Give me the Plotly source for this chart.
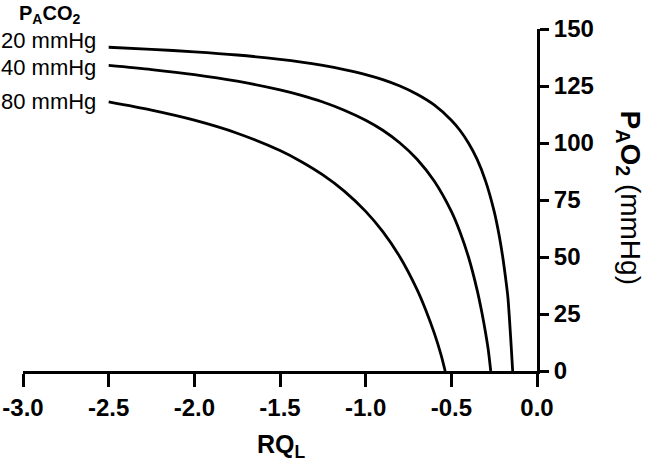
import plotly.graph_objects as go

# Values
rq_20 = [-2.5, -2.25, -2.0, -1.75, -1.5, -1.375, -1.25, -1.125, -1.0, -0.9, -0.8, -0.7, -0.6,
         -0.5, -0.45, -0.4, -0.35, -0.3, -0.25, -0.22, -0.2, -0.18, -0.17, -0.16, -0.15, -0.142]
pao2_20 = [142, 141.1, 140, 138.6, 136.7, 135.5, 134, 132.2, 130, 127.8, 125, 121.4, 116.7,
           110, 105.6, 100, 92.9, 83.3, 70, 59.1, 50, 38.9, 32.5, 22, 10, 0]

rq_40 = [-2.5, -2.25, -2.0, -1.75, -1.5, -1.375, -1.25, -1.125, -1.0, -0.9, -0.8, -0.7, -0.6,
         -0.5, -0.45, -0.4, -0.35, -0.32, -0.3, -0.285, -0.27]
pao2_40 = [134, 132.2, 130, 127.1, 123.3, 120.9, 118, 114.4, 110, 105.6, 100, 92.9, 83.3,
           70, 61.1, 50, 35.7, 25, 16.7, 9.6, 0]

rq_80 = [-2.5, -2.25, -2.0, -1.75, -1.5, -1.375, -1.25, -1.125, -1.0, -0.9, -0.8, -0.7, -0.65,
         -0.6, -0.56, -0.536]
pao2_80 = [118, 114.4, 110, 104.3, 96.7, 91.8, 86, 78.9, 70, 61.1, 50, 35.7, 26.9,
           16.7, 7.1, 0]

series_labels = ["20 mmHg", "40 mmHg", "80 mmHg"]
x_ticks = [-3.0, -2.5, -2.0, -1.5, -1.0, -0.5, 0.0]
x_tick_text = ["-3.0", "-2.5", "-2.0", "-1.5", "-1.0", "-0.5", "0.0"]
y_ticks = [0, 25, 50, 75, 100, 125, 150]

W, H = 645, 464
L, R, T, B = 23, 107.5, 29, 93
pw, ph = W - L - R, H - T - B

def px(xp):
    return (xp - L) / pw

def py(yp):
    return (H - B - yp) / ph

fig = go.Figure()
for xs, ys, name in [(rq_20, pao2_20, series_labels[0]),
                     (rq_40, pao2_40, series_labels[1]),
                     (rq_80, pao2_80, series_labels[2])]:
    fig.add_trace(go.Scatter(x=xs, y=ys, mode="lines", name=name,
                             line=dict(color="black", width=2.8, shape="spline", smoothing=0.8),
                             showlegend=False))

FONT = "Liberation Sans, Arial, sans-serif"
axis_common = dict(showgrid=False, zeroline=False, showline=True, linecolor="black",
                   linewidth=3, ticks="outside", tickcolor="black", tickwidth=3,
                   automargin=False,
                   tickfont=dict(family=FONT, size=24, color="black", weight="bold"))

fig.update_xaxes(range=[-3, 0], tickvals=x_ticks, ticktext=x_tick_text, ticklen=13, **axis_common)
fig.update_yaxes(range=[0, 150], tickvals=y_ticks, side="right", ticklen=9, **axis_common)

ann = []
def add_ann(xp, yp, text, size, xanchor="center", textangle=0):
    ann.append(dict(x=px(xp), y=py(yp), xref="paper", yref="paper", xanchor=xanchor,
                    yanchor="middle", textangle=textangle, text=text, showarrow=False,
                    font=dict(family=FONT, size=size, color="black")))

add_ann(629, 198, "<b>P</b><sub><b>A</b></sub><b>O</b><sub><b>2</b></sub> (mmHg)", 28, textangle=90)
add_ann(282, 446, "<b>RQ<sub>L</sub></b>", 25)
add_ann(50, 14, "<b>P<sub>A</sub>CO<sub>2</sub></b>", 20)
for lab, yp in zip(series_labels, [40, 67, 102]):
    add_ann(98, yp, lab, 22, xanchor="right")

fig.update_layout(width=W, height=H, margin=dict(l=L, r=R, t=T, b=B, autoexpand=False),
                  paper_bgcolor="white", plot_bgcolor="white", annotations=ann)

fig.write_html("out.html", config={"displayModeBar": False},
               post_script="document.body.style.margin='0';document.body.style.overflow='hidden';")
